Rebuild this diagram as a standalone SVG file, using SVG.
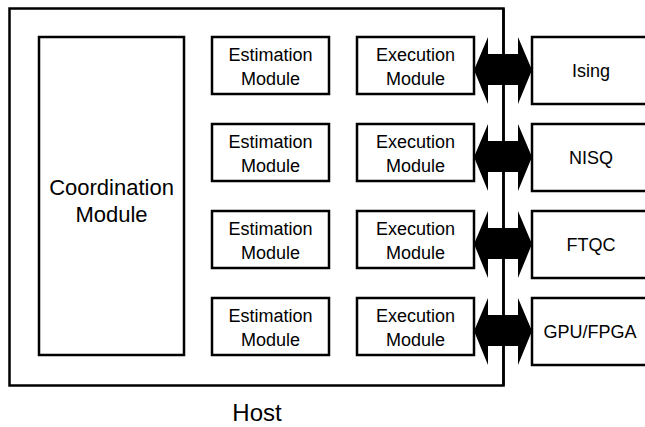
<svg xmlns="http://www.w3.org/2000/svg" width="645" height="427" viewBox="0 0 645 427">
<style>
.box{fill:#fff;stroke:#000;stroke-width:2.5}
.t{font-family:"Liberation Sans","Noto Sans CJK JP",sans-serif;font-size:18px;fill:#000;text-anchor:middle}
.big{font-size:22px}
.host{font-size:24px}
.arr{fill:#000;stroke:none}
</style>
<defs>
<path id="dbl" d="M0,33 L14,0 L14,17 L44,17 L44,0 L58,33 L44,67 L44,48 L14,48 L14,67 Z"/>
</defs>
<g id="host">
<rect class="box" x="9.5" y="8.5" width="494" height="377"/>
<text class="t host" x="257" y="421">Host</text>
</g>
<g id="coordination">
<rect class="box" x="39" y="37" width="145" height="318"/>
<text class="t big" x="111.5" y="195">Coordination</text>
<text class="t big" x="111.5" y="222">Module</text>
</g>
<g id="est1"><rect class="box" x="212" y="37" width="117" height="57"/><text class="t" x="270.5" y="61">Estimation</text><text class="t" x="270.5" y="85">Module</text></g>
<g id="est2"><rect class="box" x="212" y="124" width="117" height="57"/><text class="t" x="270.5" y="148">Estimation</text><text class="t" x="270.5" y="172">Module</text></g>
<g id="est3"><rect class="box" x="212" y="211" width="117" height="57"/><text class="t" x="270.5" y="235">Estimation</text><text class="t" x="270.5" y="259">Module</text></g>
<g id="est4"><rect class="box" x="212" y="298" width="117" height="57"/><text class="t" x="270.5" y="322">Estimation</text><text class="t" x="270.5" y="346">Module</text></g>
<g id="exe1"><rect class="box" x="357" y="37" width="117" height="57"/><text class="t" x="415.5" y="61">Execution</text><text class="t" x="415.5" y="85">Module</text></g>
<g id="exe2"><rect class="box" x="357" y="124" width="117" height="57"/><text class="t" x="415.5" y="148">Execution</text><text class="t" x="415.5" y="172">Module</text></g>
<g id="exe3"><rect class="box" x="357" y="211" width="117" height="57"/><text class="t" x="415.5" y="235">Execution</text><text class="t" x="415.5" y="259">Module</text></g>
<g id="exe4"><rect class="box" x="357" y="298" width="117" height="57"/><text class="t" x="415.5" y="322">Execution</text><text class="t" x="415.5" y="346">Module</text></g>
<g id="ising"><rect class="box" x="532" y="37" width="130" height="67"/><text class="t" x="591" y="77">Ising</text></g>
<g id="nisq"><rect class="box" x="532" y="124" width="130" height="67"/><text class="t" x="591" y="164">NISQ</text></g>
<g id="ftqc"><rect class="box" x="532" y="211" width="130" height="67"/><text class="t" x="591" y="251">FTQC</text></g>
<g id="gpu"><rect class="box" x="532" y="298" width="130" height="67"/><text class="t" x="590" y="338">GPU/FPGA</text></g>
<g id="connectors">
<use href="#dbl" class="arr" x="474" y="37"/>
<use href="#dbl" class="arr" x="474" y="124"/>
<use href="#dbl" class="arr" x="474" y="211"/>
<use href="#dbl" class="arr" x="474" y="298"/>
<line x1="503.5" y1="8.5" x2="503.5" y2="385.5" stroke="#000" stroke-width="2.5"/>
</g>
</svg>
